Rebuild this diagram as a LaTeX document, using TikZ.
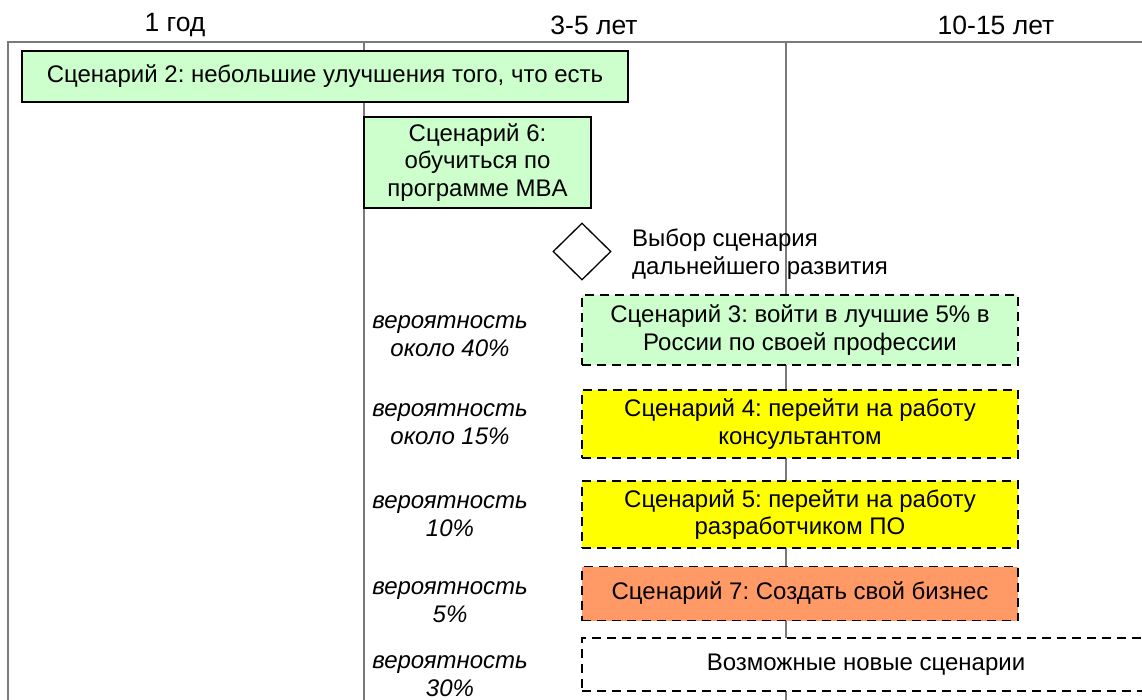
\documentclass[tikz,border=0pt]{standalone}
\usepackage{fontspec}
\setmainfont{Liberation Sans}
\frenchspacing
\usetikzlibrary{shapes.geometric}
\definecolor{lgreen}{HTML}{CCFFCC}
\definecolor{syellow}{HTML}{FFFF00}
\definecolor{sorange}{HTML}{FF9966}
\definecolor{gridgray}{HTML}{7A7A7A}
\begin{document}
\begin{tikzpicture}[x=1pt,y=-1pt,
  every node/.style={font=\fontsize{24}{27.5}\selectfont\frenchspacing, inner sep=0pt},
  grid/.style={draw=gridgray, line width=1.3pt},
  solidbox/.style={draw=black, line width=1.3pt, fill=lgreen, align=center},
  dashbox/.style={draw=black, line width=1.8pt, dash pattern=on 9pt off 6pt, align=center, minimum width=436pt},
  prob/.style={font=\fontsize{24}{27.5}\selectfont\itshape, align=center},
  head/.style={font=\fontsize{26.5}{30}\selectfont}
]
\useasboundingbox (0,0) rectangle (1142,700);
\clip (0,0) rectangle (1142,700);
% timeline grid
\coordinate (tl) at (8,42);
\coordinate (tr) at (1150,42);
\coordinate (bl) at (8,710);
\coordinate (m1t) at (364,42);
\coordinate (m1b) at (364,710);
\coordinate (m2t) at (786,42);
\coordinate (m2b) at (786,710);
\draw[grid] (tr) -- (tl) -- (bl);
\draw[grid] (m1t) -- (m1b);
\draw[grid] (m2t) -- (m2b);
% headers
\node[head] (h1) at (175,25) {1 год};
\node[head] (h2) at (594,25) {3-5 лет};
\node[head] (h3) at (996,25) {10-15 лет};
% boxes
\node[solidbox, minimum width=606pt, minimum height=51pt] (s2) at (325,76.5) {Сценарий 2: небольшие улучшения того, что есть};
\node[solidbox, minimum width=227pt, minimum height=91pt] (s6) at (477.5,162.5) {Сценарий 6:\\обучиться по\\программе MBA};
\node[draw=black, line width=1.3pt, fill=white, diamond, minimum width=58pt, minimum height=57pt] (dec) at (582,251.5) {};
\node[anchor=west, align=left] (dect) at (632,254) {Выбор сценария\\дальнейшего развития};
\node[dashbox, fill=lgreen, minimum height=70pt] (s3) at (800,330) {Сценарий 3: войти в лучшие 5\% в\\России по своей профессии};
\node[dashbox, fill=syellow, minimum height=68pt] (s4) at (800,424) {Сценарий 4: перейти на работу\\консультантом};
\node[dashbox, fill=syellow, minimum height=67pt] (s5) at (800,514.5) {Сценарий 5: перейти на работу\\разработчиком ПО};
\node[dashbox, fill=sorange, minimum height=54pt] (s7) at (800,593.5) {Сценарий 7: Создать свой бизнес};
\node[dashbox, fill=white, minimum width=568pt, minimum height=53pt] (sn) at (866,664.5) {Возможные новые сценарии};
% probabilities
\node[prob] (p3) at (450,336) {вероятность\\около 40\%};
\node[prob] (p4) at (450,424) {вероятность\\около 15\%};
\node[prob] (p5) at (450,516) {вероятность\\10\%};
\node[prob] (p7) at (450,602) {вероятность\\5\%};
\node[prob] (pn) at (450,676) {вероятность\\30\%};
\end{tikzpicture}
\end{document}
